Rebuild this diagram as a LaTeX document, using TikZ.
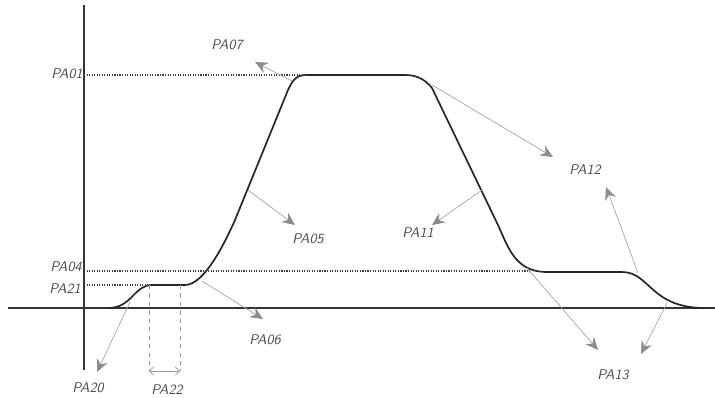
\documentclass[tikz,border=0pt]{standalone}
\usepackage{tikz}
\tikzstyle{param}=[font=\sffamily\slshape, text=black!70, inner sep=1pt]
\tikzstyle{pointer}=[draw=black!35, line width=0.5pt,
-{Stealth[length=9pt,width=8pt,inset=3pt,color=black!45]}]
\tikzstyle{level}=[densely dotted, line width=0.8pt, draw=black!75]
\tikzstyle{span}=[dashed, line width=0.5pt, draw=black!40]
\tikzstyle{axis}=[line width=1.3pt, draw=black!80]
\usetikzlibrary{arrows.meta}

\begin{document}
\begin{tikzpicture}[x=0.025cm, y=-0.025cm]
            \useasboundingbox (0,0) rectangle (715,397);

            % AXES
            \coordinate (ytop) at (84,5);
            \coordinate (ybot) at (84,370);
            \coordinate (xl) at (8,308);
            \coordinate (xr) at (715,308);
            \draw[axis] (ytop) -- (ybot);
            \draw[axis] (xl) -- (xr);

            % CURVE POINTS
            \coordinate (c0) at (108,308);
            \coordinate (c1) at (152,285);
            \coordinate (c2) at (185,285);
            \coordinate (c3) at (235,220);
            \coordinate (c4) at (288,90);
            \coordinate (c5) at (308,75);
            \coordinate (c6) at (405,75);
            \coordinate (c7) at (432,88);
            \coordinate (c8) at (498,225);
            \coordinate (c9) at (545,272);
            \coordinate (c10) at (622,272);
            \coordinate (c11) at (705,308);

            \draw[line width=1.2pt, black!85] (c0) .. controls (132,308) and (134,285) .. (c1)
                -- (c2) .. controls (205,285) and (226,240) .. (c3)
                -- (c4) .. controls (294,77) and (298,75) .. (c5)
                -- (c6) .. controls (415,75) and (424,78) .. (c7)
                -- (c8) .. controls (508,247) and (515,271) .. (c9)
                -- (c10) .. controls (650,272) and (650,308) .. (c11);

            % LEVELS
            \coordinate (l01) at (84,75);
            \coordinate (l04) at (84,271);
            \coordinate (l04e) at (530,271);
            \coordinate (l21) at (84,285);
            \draw[level] (l01) -- (c5);
            \draw[level] (l04) -- (l04e);
            \draw[level] (l21) -- (c1);

            % PA22 SPAN
            \coordinate (s1t) at (149,285);
            \coordinate (s1b) at (149,371);
            \coordinate (s2t) at (180,285);
            \coordinate (s2b) at (180,371);
            \draw[span] (s1t) -- (s1b);
            \draw[span] (s2t) -- (s2b);
            \draw[black!40, line width=0.5pt, {Straight Barb[length=3pt]}-{Straight Barb[length=3pt]}] (s1b) -- (s2b);

            % LABELS
            \node[param] (pa01) at (67,74) {PA01};
            \node[param] (pa07) at (227,45) {PA07};
            \node[param] (pa04) at (66,267) {PA04};
            \node[param] (pa21) at (65,289) {PA21};
            \node[param] (pa05) at (308,239) {PA05};
            \node[param] (pa06) at (265,340) {PA06};
            \node[param] (pa20) at (88,388) {PA20};
            \node[param] (pa22) at (167,390) {PA22};
            \node[param] (pa11) at (418,233) {PA11};
            \node[param] (pa12) at (585,170) {PA12};
            \node[param] (pa13) at (613,375) {PA13};

            % POINTERS
            \coordinate (f07) at (292,81);   \coordinate (t07) at (255,62);
            \coordinate (f05) at (248,190);  \coordinate (t05) at (295,225);
            \coordinate (f06) at (202,281);  \coordinate (t06) at (263,319);
            \coordinate (f20) at (130,302);  \coordinate (t20) at (97,372);
            \coordinate (f11) at (482,190);  \coordinate (t11) at (432,225);
            \coordinate (f12) at (432,85);   \coordinate (t12) at (553,157);
            \coordinate (g12) at (638,273);  \coordinate (u12) at (606,187);
            \coordinate (f13) at (527,268);  \coordinate (t13) at (598,350);
            \coordinate (g13) at (667,303);  \coordinate (u13) at (641,354);

            \draw[pointer] (f07) -- (t07);
            \draw[pointer] (f05) -- (t05);
            \draw[pointer] (f06) -- (t06);
            \draw[pointer] (f20) -- (t20);
            \draw[pointer] (f11) -- (t11);
            \draw[pointer] (f12) -- (t12);
            \draw[pointer] (g12) -- (u12);
            \draw[pointer] (f13) -- (t13);
            \draw[pointer] (g13) -- (u13);

\end{tikzpicture}
\end{document}
